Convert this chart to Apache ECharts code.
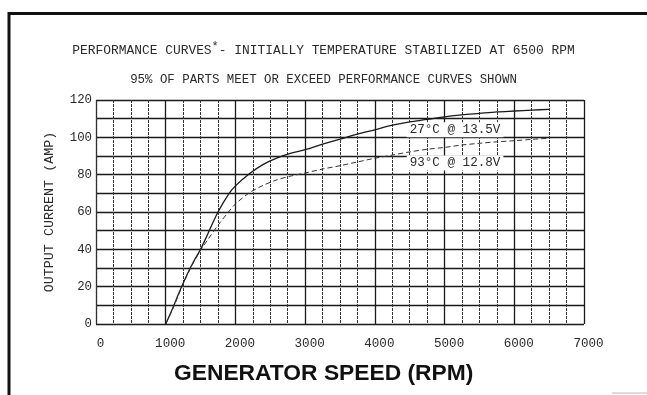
<!DOCTYPE html>
<html>
<head>
<meta charset="utf-8">
<script src="https://cdn.jsdelivr.net/npm/echarts@6/dist/echarts.min.js"></script>
<style>
  html, body { margin: 0; padding: 0; background: #fff; }
  #chart { width: 647px; height: 395px; }
</style>
</head>
<body>
<div id="chart"></div>
<script>
// Generator speed (RPM) sample points
const rpm = [1000, 1100, 1200, 1300, 1400, 1500, 1600, 1750, 1900, 2000, 2200, 2400, 2600, 2800, 3000,
             3250, 3500, 3750, 4000, 4250, 4500, 4750, 5000, 5250, 5500, 5750, 6000, 6250, 6500];
// Output current (A) at 27°C, 13.5 V
const amps27 = [0, 8.5, 17.5, 26, 33.5, 40, 48, 60, 69.5, 74, 80.5, 85.5, 89, 91.5, 93.4,
                96.3, 99, 101.7, 104, 106.5, 108.3, 109.6, 111, 112, 112.8, 113.6, 114.1, 114.6, 115];
// Output current (A) at 93°C, 12.8 V
const amps93 = [0, 8, 17, 25.5, 33, 39.5, 45, 52.9, 60, 64.3, 70.3, 74.3, 77.3, 79.3, 80.9,
                83, 84.8, 86.8, 88.8, 90.5, 92.2, 93.6, 94.6, 95.9, 96.8, 97.6, 98.2, 98.9, 99.5];

const xTicks = ['0', '1000', '2000', '3000', '4000', '5000', '6000', '7000'];
const yTicks = ['0', '20', '40', '60', '80', '100', '120'];

const curveNames = ['27°C @ 13.5V', '93°C @ 12.8V'];

const mono = '"Liberation Mono", "DejaVu Sans Mono", monospace';
const ink = '#2a2a2a';

const pairs = (xs, ys) => xs.map((x, i) => [x, ys[i]]);

const chart = echarts.init(document.getElementById('chart'), null, { renderer: 'canvas' });

chart.setOption({
  backgroundColor: '#fff',
  animation: false,
  title: [
    {
      text: '{a|PERFORMANCE CURVES}{s|*}{a|- INITIALLY TEMPERATURE STABILIZED AT 6500 RPM}',
      left: 'center', top: 36,
      textStyle: {
        fontWeight: 'normal',
        rich: {
          a: { fontFamily: mono, fontSize: 12.9, fontWeight: 'normal', color: ink },
          s: { fontFamily: mono, fontSize: 12, fontWeight: 'normal', color: ink, verticalAlign: 'top', padding: [0, 0, 8, 0] }
        }
      }
    },
    {
      text: '95% OF PARTS MEET OR EXCEED PERFORMANCE CURVES SHOWN',
      left: 'center', top: 69,
      textStyle: { fontFamily: mono, fontSize: 12.4, fontWeight: 'normal', color: ink }
    },
    {
      text: 'GENERATOR SPEED (RPM)',
      left: 169, top: 357,
      textStyle: { fontFamily: '"Liberation Sans", Arial, sans-serif', fontSize: 22.8, fontWeight: 'bold', color: '#111' }
    }
  ],
  graphic: [
    { type: 'line', shape: { x1: 8, y1: 13.5, x2: 647, y2: 13.5 }, style: { stroke: '#111', lineWidth: 3 } },
    { type: 'line', shape: { x1: 9, y1: 12, x2: 9, y2: 395 }, style: { stroke: '#111', lineWidth: 3 } },
    { type: 'line', shape: { x1: 612, y1: 393, x2: 647, y2: 393 }, style: { stroke: '#bbb', lineWidth: 1 } }
  ],
  grid: { left: 96, right: 63, top: 100, bottom: 71 },
  xAxis: {
    type: 'value', min: 0, max: 7000, interval: 1000,
    axisLine: { show: false },
    axisTick: { show: false },
    axisLabel: {
      fontFamily: mono, fontSize: 12.6, color: ink, margin: 13,
      padding: [0, 0, 0, 9],
      formatter: (v) => xTicks[Math.round(v / 1000)]
    },
    splitLine: { show: true, lineStyle: { color: '#1a1a1a', width: 1.3 } },
    minorTick: { show: false, splitNumber: 4 },
    minorSplitLine: { show: true, lineStyle: { color: '#333', width: 1, type: [3, 1] } }
  },
  yAxis: {
    type: 'value', min: 0, max: 120, interval: 20,
    name: 'OUTPUT CURRENT (AMP)',
    nameLocation: 'middle', nameGap: 40,
    nameTextStyle: { fontFamily: mono, fontSize: 13.4, color: ink },
    axisLine: { show: true, lineStyle: { color: '#333', width: 1, type: [3, 1] } },
    axisTick: { show: false },
    axisLabel: {
      fontFamily: mono, fontSize: 12.4, color: ink, margin: 4,
      formatter: (v) => yTicks[Math.round(v / 20)]
    },
    splitLine: { show: true, lineStyle: { color: '#1a1a1a', width: 1.3 } },
    minorTick: { show: false, splitNumber: 2 },
    minorSplitLine: { show: true, lineStyle: { color: '#1a1a1a', width: 1.3 } }
  },
  series: [
    {
      name: curveNames[0], type: 'line', data: pairs(rpm, amps27),
      showSymbol: false, smooth: 0.3, z: 5,
      lineStyle: { color: '#1a1a1a', width: 1.3 },
      markPoint: {
        symbol: 'rect', symbolSize: 0,
        label: {
          show: true, formatter: curveNames[0],
          fontFamily: mono, fontSize: 12.6, color: ink,
          backgroundColor: '#fff', padding: [1, 3]
        },
        data: [{ coord: [5150, 104] }]
      }
    },
    {
      name: curveNames[1], type: 'line', data: pairs(rpm, amps93),
      showSymbol: false, smooth: 0.3, z: 5,
      lineStyle: { color: '#333', width: 1, type: [5, 3] },
      markPoint: {
        symbol: 'rect', symbolSize: 0,
        label: {
          show: true, formatter: curveNames[1],
          fontFamily: mono, fontSize: 12.6, color: ink,
          backgroundColor: '#fff', padding: [1, 3]
        },
        data: [{ coord: [5150, 86.3] }]
      }
    }
  ]
});
</script>
</body>
</html>
